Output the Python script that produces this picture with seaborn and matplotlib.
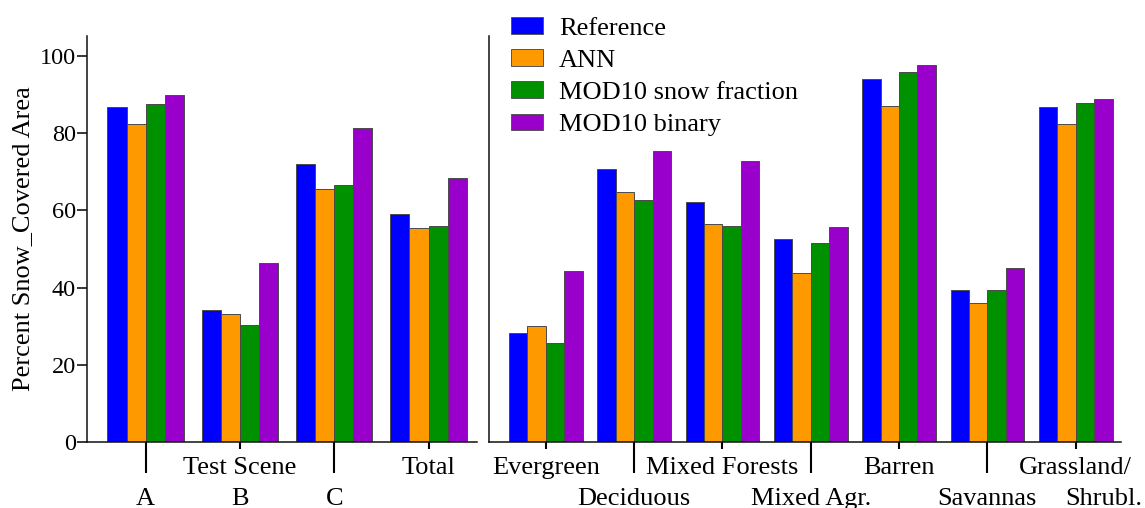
import matplotlib
matplotlib.use("Agg")
import matplotlib.pyplot as plt
import pandas as pd
import seaborn as sns
from matplotlib.patches import Patch

# Series shown in both panels
series = ["Reference", "ANN", "MOD10 snow fraction", "MOD10 binary"]
colors = ["#0000FF", "#FF9900", "#009100", "#9900CC"]

# Test scenes (left panel).  "\nX" puts a label on the lower row under a
# long tick; "X\nY" puts X on the upper row and Y right beneath it.
scene_labels = ["\nA", "Test Scene\nB", "\nC", "Total"]
scene_reference = [86.7, 34.2, 72.0, 59.2]
scene_ann = [82.3, 33.2, 65.5, 55.4]
scene_mod10_fraction = [87.7, 30.3, 66.7, 55.9]
scene_mod10_binary = [89.9, 46.5, 81.4, 68.4]

# Land-cover classes (right panel)
cover_labels = ["Evergreen", "\nDeciduous", "Mixed Forests", "\nMixed Agr.",
                "Barren", "\nSavannas", "Grassland/\nShrubl."]
cover_reference = [28.3, 70.7, 62.1, 52.7, 94.0, 39.5, 86.8]
cover_ann = [30.0, 64.8, 56.5, 43.9, 87.0, 36.1, 82.5]
cover_mod10_fraction = [25.6, 62.7, 56.1, 51.5, 95.9, 39.4, 87.8]
cover_mod10_binary = [44.3, 75.4, 72.9, 55.8, 97.6, 45.0, 89.0]

y_ticks = [0, 20, 40, 60, 80, 100]


def long_form(labels, columns):
    rows = []
    for name, values in zip(series, columns):
        for lab, v in zip(labels, values):
            rows.append({"group": lab, "series": name, "value": v})
    return pd.DataFrame(rows)


scene_df = long_form(scene_labels, [scene_reference, scene_ann,
                                    scene_mod10_fraction, scene_mod10_binary])
cover_df = long_form(cover_labels, [cover_reference, cover_ann,
                                    cover_mod10_fraction, cover_mod10_binary])

sns.set_style("ticks")
plt.rcParams["font.family"] = ["Liberation Serif", "DejaVu Serif"]
plt.rcParams.update({
    "axes.linewidth": 1.1,
    "axes.edgecolor": "#111111",
    "text.color": "black",
    "axes.labelcolor": "black",
    "xtick.color": "black",
    "ytick.color": "black",
})

fig = plt.figure(figsize=(11.45, 5.08), dpi=100)
ax1 = fig.add_axes([0.0762, 0.1299, 0.3401, 0.7992])
ax2 = fig.add_axes([0.4271, 0.1299, 0.5520, 0.7992])

bar_kw = dict(x="group", y="value", hue="series", hue_order=series,
              palette=colors, saturation=1, errorbar=None, legend=False,
              edgecolor="#4a4a4a", linewidth=0.7)
sns.barplot(data=scene_df, order=scene_labels, width=0.81, ax=ax1, **bar_kw)
sns.barplot(data=cover_df, order=cover_labels, width=0.834, ax=ax2, **bar_kw)

ax1.set_xlim(-0.619, 3.51)
ax2.set_xlim(-0.643, 6.514)

SHORT_TICK = 5.0      # pt
LONG_TICK = 22.3      # pt
UPPER_OFFSET = 11.0   # pt from the axis line to the top of the upper row
LOWER_OFFSET = 32.8   # pt from the axis line to the top of the lower row

for ax in (ax1, ax2):
    ax.set_ylim(0, 105.2)
    ax.set_xlabel("")
    ax.set_ylabel("")
    for side in ("top", "right"):
        ax.spines[side].set_visible(False)
    ax.tick_params(axis="x", length=SHORT_TICK, width=1.5,
                   pad=UPPER_OFFSET - SHORT_TICK, labelsize=19,
                   colors="black")

ax1.set_yticks(y_ticks)
ax1.tick_params(axis="y", length=7.2, width=1.1, pad=1, labelsize=17.5,
                colors="black")
ax1.set_ylabel("Percent Snow_Covered Area", fontsize=19, labelpad=4,
               color="black")
ax2.set_yticks([])

# Two label rows: upper row on short ticks, lower row hanging from long ticks
second_line_shift = {"Shrubl.": 20.0}
for ax, labels in ((ax1, scene_labels), (ax2, cover_labels)):
    ax.set_xticks(range(len(labels)))
    upper_parts = [lab.partition("\n") for lab in labels]
    ax.set_xticklabels([u if u else l for u, _, l in upper_parts])
    for i, (tick, (upper, _, lower)) in enumerate(
            zip(ax.xaxis.get_major_ticks(), upper_parts)):
        if not upper:
            tick.set_pad(LOWER_OFFSET - SHORT_TICK)
            tick.tick1line.set_markersize(LONG_TICK)
        elif lower:
            ax.annotate(lower, xy=(i, 0), xycoords=ax.get_xaxis_transform(),
                        xytext=(second_line_shift.get(lower, 0.0),
                                -LOWER_OFFSET),
                        textcoords="offset points", ha="center", va="top",
                        fontsize=19, color="black", annotation_clip=False)

handles = [Patch(facecolor=c, edgecolor="#555555", linewidth=0.7, label=s)
           for s, c in zip(series, colors)]
fig.legend(handles=handles, loc="upper left",
           bbox_to_anchor=(510.7 / 1145, 1 - 17 / 508), frameon=False,
           fontsize=19, handlelength=1.21, handleheight=0.6,
           handletextpad=0.62, labelspacing=0.36, borderpad=0,
           borderaxespad=0)

fig.savefig("out.png", dpi=100)
